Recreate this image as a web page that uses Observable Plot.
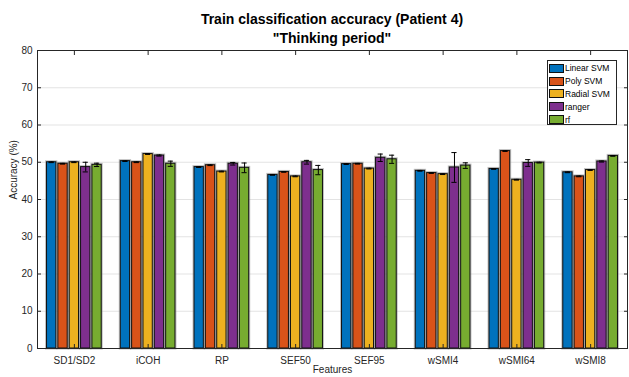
<!DOCTYPE html>
<html>
<head>
<meta charset="utf-8">
<script src="https://cdn.jsdelivr.net/npm/d3@7"></script>
<script src="https://cdn.jsdelivr.net/npm/@observablehq/plot@0.6"></script>
<style>
  body { margin: 0; background: white; }
  #wrap { position: relative; width: 629px; height: 377px; font-family: "Liberation Sans", Arial, sans-serif; color: #000; }
  #title { position: relative; height: 45px; width: 629px; }
  #title div { position: absolute; left: 37px; width: 590px; text-align: center; font-weight: bold; font-size: 14px; line-height: 16px; }
  #legend { position: absolute; left: 547px; top: 60px; width: 70px; height: 65px; border: 1px solid #262626; background: white; box-sizing: border-box; padding-top: 1px; }
  .item { display: flex; align-items: center; height: 12.8px; font-size: 8.5px; }
  .sw { width: 15px; height: 9px; border: 1px solid #111; margin-left: 1px; margin-right: 1px; box-sizing: border-box; }
  svg { display: block; }
</style>
</head>
<body>
<div id="wrap">
  <div id="title">
    <div style="top:11px">Train classification accuracy (Patient 4)</div>
    <div style="top:30px">"Thinking period"</div>
  </div>
  <div id="chart"></div>
  <div id="legend"></div>
</div>
<script>
const categories = ["SD1/SD2", "iCOH", "RP", "SEF50", "SEF95", "wSMI4", "wSMI64", "wSMI8"];
const models = ["Linear SVM", "Poly SVM", "Radial SVM", "ranger", "rf"];
const colors = ["#0072BD", "#D95319", "#EDB120", "#7E2F8E", "#77AC30"];

const linearSVM = [50.0, 50.3, 48.7, 46.6, 49.5, 47.7, 48.2, 47.3];
const polySVM   = [49.6, 50.0, 49.2, 47.4, 49.6, 47.1, 53.0, 46.2];
const radialSVM = [50.0, 52.2, 47.5, 46.2, 48.3, 46.8, 45.3, 47.9];
const ranger    = [48.7, 51.8, 49.6, 50.0, 51.2, 48.6, 49.8, 50.2];
const rf        = [49.3, 49.6, 48.5, 47.9, 50.8, 49.1, 49.9, 51.7];

const linearErr = [0.1, 0.1, 0.1, 0.1, 0.1, 0.1, 0.1, 0.1];
const polyErr   = [0.1, 0.1, 0.1, 0.1, 0.1, 0.1, 0.1, 0.1];
const radialErr = [0.1, 0.1, 0.1, 0.1, 0.1, 0.1, 0.1, 0.1];
const rangerErr = [1.3, 0.15, 0.35, 0.5, 1.0, 4.0, 0.9, 0.15];
const rfErr     = [0.45, 0.7, 1.3, 1.25, 1.1, 0.75, 0.1, 0.1];

const yTicks = [0, 10, 20, 30, 40, 50, 60, 70, 80];
const xLabel = "Features";
const yLabel = "Accuracy (%)";

const series = [linearSVM, polySVM, radialSVM, ranger, rf];
const errs = [linearErr, polyErr, radialErr, rangerErr, rfErr];

const nS = models.length;
const groupW = Math.min(0.8, nS / (nS + 1.5));
const slot = groupW / nS;
const barW = 0.82 * slot;
const cap = 0.035;

const data = [];
categories.forEach((c, i) => {
  series.forEach((s, j) => {
    const center = (i + 1) - groupW / 2 + slot * (j + 0.5);
    data.push({cat: c, model: models[j], j, value: s[i], err: errs[j][i],
      c: center, x1: center - barW / 2, x2: center + barW / 2});
  });
});
const catPos = categories.map((c, i) => i + 1);

const chart = Plot.plot({
  width: 629,
  height: 332,
  marginLeft: 37,
  marginRight: 2,
  marginTop: 5,
  marginBottom: 29,
  x: {domain: [0.5, 8.5]},
  y: {domain: [0, 80]},
  style: {fontFamily: "'Liberation Sans', Arial, sans-serif", fontSize: "10px", color: "#262626", background: "white"},
  marks: [
    Plot.gridY(yTicks.slice(1, -1), {stroke: "#e3e3e3", strokeOpacity: 1}),
    Plot.rectY(data, {x1: "x1", x2: "x2", y1: 0, y2: "value", fill: "none", stroke: "#8c8c8c", strokeOpacity: 0.55, strokeWidth: 3}),
    Plot.rectY(data, {x1: "x1", x2: "x2", y1: 0, y2: "value", fill: d => colors[d.j], stroke: "#111", strokeWidth: 1}),
    Plot.ruleX(data, {x: "c", y1: d => d.value - d.err, y2: d => d.value + d.err, stroke: "#000", strokeWidth: 1}),
    Plot.ruleY(data, {x1: d => d.c - cap, x2: d => d.c + cap, y: d => d.value + d.err, stroke: "#000", strokeWidth: 1}),
    Plot.ruleY(data, {x1: d => d.c - cap, x2: d => d.c + cap, y: d => d.value - d.err, stroke: "#000", strokeWidth: 1}),
    Plot.frame({stroke: "#262626"}),
    Plot.axisX(catPos, {tickFormat: i => categories[i - 1], tickSize: 0, tickPadding: 8, label: null, fill: "#262626"}),
    Plot.axisX(catPos, {tickSize: -4, text: null, label: null, stroke: "#262626"}),
    Plot.axisX(catPos, {anchor: "top", tickSize: -4, text: null, label: null, stroke: "#262626"}),
    Plot.axisY(yTicks, {tickSize: 0, tickPadding: 5, label: null, fill: "#262626"}),
    Plot.axisY(yTicks, {tickSize: -4, text: null, label: null, stroke: "#262626"}),
    Plot.axisY(yTicks, {anchor: "right", tickSize: -4, text: null, label: null, stroke: "#262626"}),
    Plot.text([xLabel], {text: d => d, frameAnchor: "bottom", lineAnchor: "middle", dy: 21, fill: "#262626", fontSize: 10}),
    Plot.text([yLabel], {text: d => d, frameAnchor: "left", rotate: -90, dx: -24, fill: "#262626", fontSize: 10})
  ]
});
document.getElementById("chart").appendChild(chart);

const legend = document.getElementById("legend");
models.forEach((m, j) => {
  const item = document.createElement("div");
  item.className = "item";
  const sw = document.createElement("div");
  sw.className = "sw";
  sw.style.background = colors[j];
  const t = document.createElement("span");
  t.textContent = m;
  item.appendChild(sw);
  item.appendChild(t);
  legend.appendChild(item);
});
</script>
</body>
</html>
